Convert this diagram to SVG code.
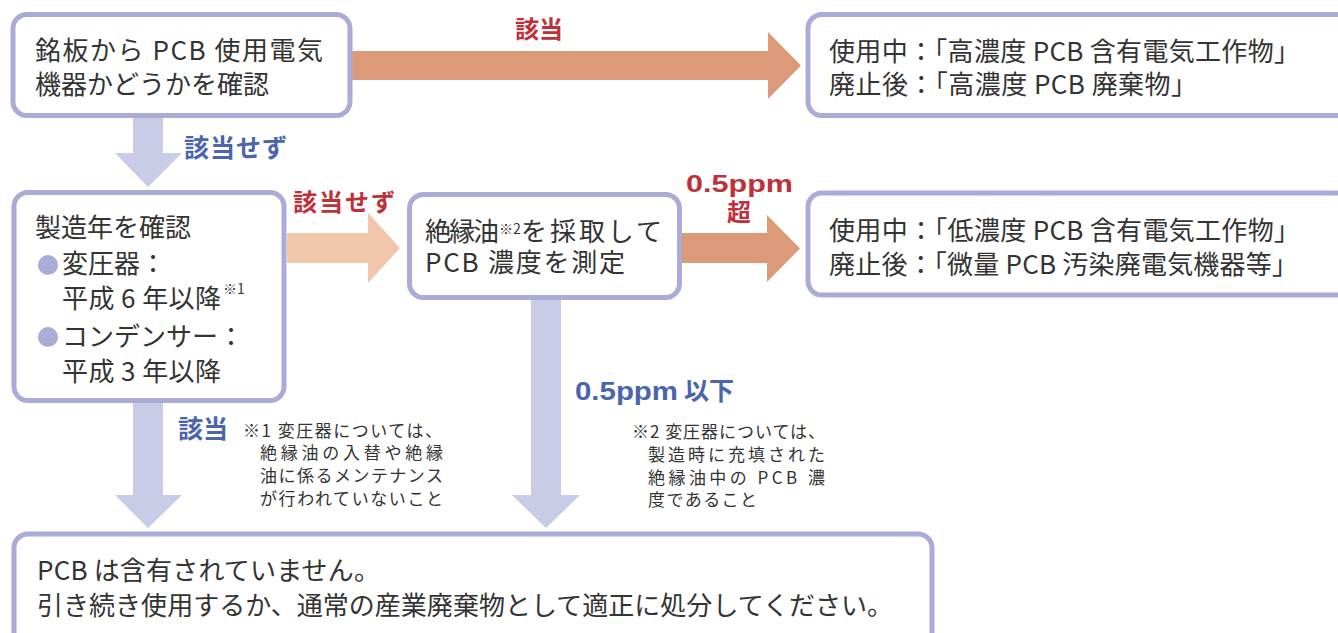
<svg xmlns="http://www.w3.org/2000/svg" width="1338" height="633" viewBox="0 0 1338 633">
<style>
.box{fill:#fff;stroke:#a9acd6;stroke-width:5}
.t{font-family:"Noto Sans CJK JP","Noto Sans CJK SC",sans-serif;fill:#333;font-size:26px}
.fn{font-family:"Noto Sans CJK JP","Noto Sans CJK SC",sans-serif;fill:#333;font-size:17px}
.sup{font-family:"Noto Sans CJK JP","Noto Sans CJK SC",sans-serif;fill:#333;font-size:14px}
.red{font-family:"Noto Sans CJK JP","Noto Sans CJK SC",sans-serif;fill:#c0303a;font-weight:bold;font-size:24px}
.blue{font-family:"Noto Sans CJK JP","Noto Sans CJK SC",sans-serif;fill:#4a64ad;font-weight:bold;font-size:25px}
.num{font-family:"Liberation Sans",Arial,sans-serif;font-weight:bold}
.ao{fill:#dc9a78}
.al{fill:#f0c7aa}
.ab{fill:#c8cce6}
.dot{fill:#a9acd6}
</style>
<g id="connectors">
<polygon class="ao" points="352,51 768,51 768,32 801,65.5 768,99 768,80 352,80"/>
<polygon class="ab" points="133,117 163,117 163,153 182,153 148,187 115,153 133,153"/>
<polygon class="al" points="287,233 368,233 368,213 400,248 368,283 368,263 287,263"/>
<polygon class="ao" points="682,233 767,233 767,215 800,248.5 767,282 767,263 682,263"/>
<polygon class="ab" points="133,403 163,403 163,495 182,495 148,528 115,495 133,495"/>
<polygon class="ab" points="531,300 561,300 561,495 580,495 546,528 512,495 531,495"/>
<text class="red" x="515" y="38">該当</text>
<text class="blue" x="184" y="157" textLength="103">該当せず</text>
<text class="red" x="293" y="211" textLength="102">該当せず</text>
<text class="red num" x="686" y="192" font-size="30" textLength="107" lengthAdjust="spacingAndGlyphs">0.5ppm</text>
<text class="red" x="727" y="221">超</text>
<text class="blue num" x="575" y="400" font-size="28" textLength="103" lengthAdjust="spacingAndGlyphs">0.5ppm</text>
<text class="blue" x="684" y="400" font-size="26">以下</text>
<text class="blue" x="178" y="438">該当</text>
</g>
<g id="node-nameplate">
<rect class="box" x="13" y="14.5" width="337" height="101" rx="14"/>
<text class="t" x="35" y="60" textLength="288">銘板から PCB 使用電気</text>
<text class="t" x="35" y="94">機器かどうかを確認</text>
</g>
<g id="node-high">
<rect class="box" x="808" y="14.5" width="560" height="101" rx="14"/>
<text class="t" x="829" y="61" font-size="25" textLength="471">使用中：「高濃度 PCB 含有電気工作物」</text>
<text class="t" x="829" y="94" font-size="25" textLength="368">廃止後：「高濃度 PCB 廃棄物」</text>
</g>
<g id="node-year">
<rect class="box" x="14" y="192.5" width="270" height="208" rx="14"/>
<text class="t" x="35" y="237">製造年を確認</text>
<circle class="dot" cx="48" cy="265" r="10"/>
<text class="t" x="62" y="273">変圧器：</text>
<text class="t" x="62" y="308" textLength="159">平成 6 年以降</text>
<text class="sup" x="223" y="294">※1</text>
<circle class="dot" cx="48" cy="337" r="10"/>
<text class="t" x="62" y="346">コンデンサー：</text>
<text class="t" x="62" y="381" textLength="159">平成 3 年以降</text>
</g>
<g id="node-measure">
<rect class="box" x="409.5" y="194.5" width="270" height="103" rx="14"/>
<text class="t" x="425" y="241" textLength="74">絶縁油</text>
<text class="sup" x="499" y="234" font-size="13">※2</text>
<text class="t" x="521" y="241" textLength="141">を採取して</text>
<text class="t" x="425" y="272" textLength="200">PCB 濃度を測定</text>
</g>
<g id="node-low">
<rect class="box" x="808" y="193" width="560" height="102" rx="14"/>
<text class="t" x="829" y="240" font-size="25" textLength="471">使用中：「低濃度 PCB 含有電気工作物」</text>
<text class="t" x="829" y="274" font-size="25" textLength="469">廃止後：「微量 PCB 汚染廃電気機器等」</text>
</g>
<g id="node-none">
<rect class="box" x="14" y="534" width="918" height="130" rx="14"/>
<text class="t" x="37" y="580" textLength="343">PCB は含有されていません。</text>
<text class="t" x="37" y="615" textLength="856">引き続き使用するか、通常の産業廃棄物として適正に処分してください。</text>
</g>
<g id="note1">
<text class="fn" x="243" y="437" textLength="199">※1 変圧器については、</text>
<text class="fn" x="260" y="459" textLength="183">絶縁油の入替や絶縁</text>
<text class="fn" x="260" y="482" textLength="183">油に係るメンテナンス</text>
<text class="fn" x="260" y="505" textLength="183">が行われていないこと</text>
</g>
<g id="note2">
<text class="fn" x="632" y="438" textLength="193">※2 変圧器については、</text>
<text class="fn" x="648" y="461" textLength="177">製造時に充填された</text>
<text class="fn" x="648" y="484" textLength="177">絶縁油中の PCB 濃</text>
<text class="fn" x="648" y="506" textLength="109">度であること</text>
</g>
</svg>
